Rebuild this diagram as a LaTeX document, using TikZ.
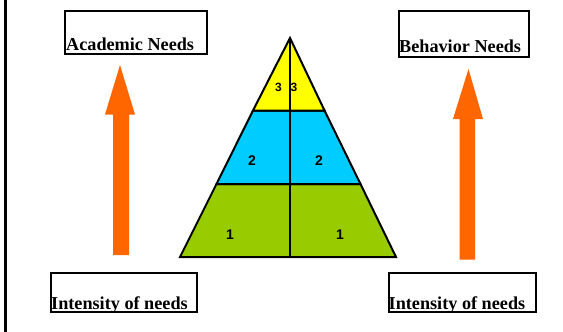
\documentclass[tikz,border=0pt]{standalone}
\usepackage{fontspec}
\setmainfont{Liberation Serif}
\newfontfamily\sansf{Liberation Sans}
\definecolor{arroworange}{HTML}{FF6600}
\definecolor{pyryellow}{HTML}{FFFF00}
\definecolor{pyrcyan}{HTML}{00CCFF}
\definecolor{pyrgreen}{HTML}{99CC00}
\begin{document}
\begin{tikzpicture}[x=1pt,y=-1pt,
  labelbox/.style={draw=black, line width=1.8pt, fill=white, inner sep=0pt, anchor=north west},
  boxtext/.style={font=\fontsize{18.2}{20}\selectfont\bfseries, inner sep=0pt, anchor=base west},
  bigarrow/.style={fill=arroworange, draw=none},
  tier/.style={draw=black, line width=2pt, line join=miter},
  numlbl/.style={font=\sansf\bfseries\fontsize{14}{15}\selectfont, inner sep=0pt},
  smalllbl/.style={font=\sansf\bfseries\fontsize{12}{13}\selectfont, inner sep=0pt}]
\useasboundingbox (0,0) rectangle (563,332);
% left border line
\draw[line width=2.2pt] (5.5,0) -- (5.5,332);
% label boxes
\node[labelbox, minimum width=142pt, minimum height=43pt] (acad) at (64,10) {};
\node[boxtext] (acadt) at ([xshift=2pt,yshift=4pt]acad.south west) {Academic Needs};
\node[labelbox, minimum width=130pt, minimum height=46pt] (behav) at (398,10) {};
\node[boxtext] (behavt) at ([xshift=1pt,yshift=5pt]behav.south west) {Behavior Needs};
\node[labelbox, minimum width=146pt, minimum height=39pt] (intl) at (50,272) {};
\node[boxtext] (intlt) at ([xshift=1pt,yshift=3pt]intl.south west) {Intensity of needs};
\node[labelbox, minimum width=147pt, minimum height=39pt] (intr) at (388,272) {};
\node[boxtext] (intrt) at ([xshift=0.5pt,yshift=3pt]intr.south west) {Intensity of needs};
% arrows
\fill[bigarrow] (113,255) -- (113,114.5) -- (105,114.5) -- (120,65) -- (135,114.5) -- (129,114.5) -- (129,255) -- cycle;
\fill[bigarrow] (459.5,259.5) -- (459.5,119) -- (453,119) -- (468.5,69) -- (483,119) -- (475,119) -- (475,259.5) -- cycle;
% pyramid
\coordinate (apex) at (290,38);
\coordinate (yl) at (253,110.5);
\coordinate (yr) at (324.5,110.5);
\coordinate (cl) at (216.5,184);
\coordinate (cr) at (360.5,184);
\coordinate (bl) at (180,257);
\coordinate (br) at (396,257);
\coordinate (ymid) at (290,110.5);
\coordinate (cmid) at (290,184);
\coordinate (bmid) at (290,257);
\filldraw[tier, fill=pyrgreen] (cl) -- (cr) -- (br) -- (bl) -- cycle;
\filldraw[tier, fill=pyrcyan] (yl) -- (yr) -- (cr) -- (cl) -- cycle;
\filldraw[tier, fill=pyryellow] (apex) -- (yr) -- (yl) -- cycle;
\draw[tier] (apex) -- (bmid);
% numbers
\node[smalllbl] (y1) at (278.5,87.5) {3};
\node[smalllbl] (y2) at (294,87.5) {3};
\node[numlbl] (c1) at (252,160.5) {2};
\node[numlbl] (c2) at (319,160.5) {2};
\node[numlbl] (g1) at (230,234.5) {1};
\node[numlbl] (g2) at (340,234.5) {1};
\end{tikzpicture}
\end{document}
